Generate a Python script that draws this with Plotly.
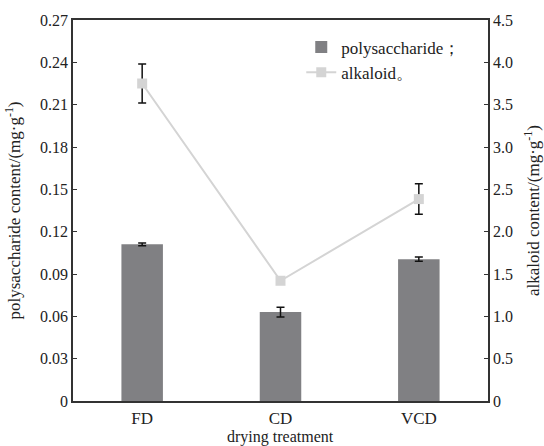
import plotly.graph_objects as go

categories = ["FD", "CD", "VCD"]
polysaccharide = [0.111, 0.063, 0.1005]
polysaccharide_err = [0.001, 0.0035, 0.0015]
alkaloid = [3.75, 1.42, 2.385]
alkaloid_err = [0.23, 0.0, 0.18]

left_ticks = [0, 0.03, 0.06, 0.09, 0.12, 0.15, 0.18, 0.21, 0.24, 0.27]
left_labels = ["0", "0.03", "0.06", "0.09", "0.12", "0.15", "0.18", "0.21", "0.24", "0.27"]
right_ticks = [0, 0.5, 1.0, 1.5, 2.0, 2.5, 3.0, 3.5, 4.0, 4.5]
right_labels = ["0", "0.5", "1.0", "1.5", "2.0", "2.5", "3.0", "3.5", "4.0", "4.5"]

FONT = "Times New Roman, Liberation Serif, DejaVu Serif, serif"
AX = "#333333"

fig = go.Figure()
fig.add_trace(go.Bar(
    x=categories, y=polysaccharide, name="polysaccharide；",
    marker=dict(color="#808083", line=dict(width=0)), width=0.3,
    error_y=dict(type="data", array=polysaccharide_err, color="#111111", thickness=1.5, width=4),
))
fig.add_trace(go.Scatter(
    x=categories, y=alkaloid, name="alkaloid。", yaxis="y2", mode="lines+markers",
    line=dict(color="#d4d4d4", width=2),
    marker=dict(symbol="square", size=10, color="#d4d4d4"),
    error_y=dict(type="data", array=alkaloid_err, color="#111111", thickness=1.5, width=4),
))

fig.update_layout(
    width=544, height=446,
    margin=dict(l=73, r=56, t=20, b=45),
    plot_bgcolor="white", paper_bgcolor="white",
    font=dict(family=FONT, size=16, color="#222222"),
    showlegend=True,
    legend=dict(x=0.55, y=0.975, xanchor="left", yanchor="top", bgcolor="rgba(0,0,0,0)",
                font=dict(family=FONT, size=17), tracegroupgap=0, itemwidth=30),
    xaxis=dict(range=[-0.5, 2.5], showline=True, mirror=True, linecolor=AX, linewidth=1.5,
               ticks="", showgrid=False, zeroline=False, tickfont=dict(size=17), automargin=False,
               ticklabelstandoff=1),
    yaxis=dict(range=[0, 0.27], tickvals=left_ticks, ticktext=left_labels, automargin=False,
               showline=True, linecolor=AX, linewidth=1.5, ticks="inside", ticklen=4,
               tickcolor=AX, showgrid=False, zeroline=False,
               title=dict(text="polysaccharide content/(mg·g<sup>-1</sup>)", font=dict(family=FONT, size=17))),
    yaxis2=dict(range=[0, 4.5], tickvals=right_ticks, ticktext=right_labels, overlaying="y", side="right",
                automargin=False,
                showline=True, linecolor=AX, linewidth=1.5, ticks="inside", ticklen=4,
                tickcolor=AX, showgrid=False, zeroline=False,
                title=dict(text="alkaloid content/(mg·g<sup>-1</sup>)", font=dict(family=FONT, size=17))),
    annotations=[dict(text="drying treatment", xref="paper", yref="paper", x=0.5, y=0,
                      xanchor="center", yanchor="top", yshift=-25, showarrow=False,
                      font=dict(family=FONT, size=16, color="#222222"))],
)

fig.write_html("out.html")
